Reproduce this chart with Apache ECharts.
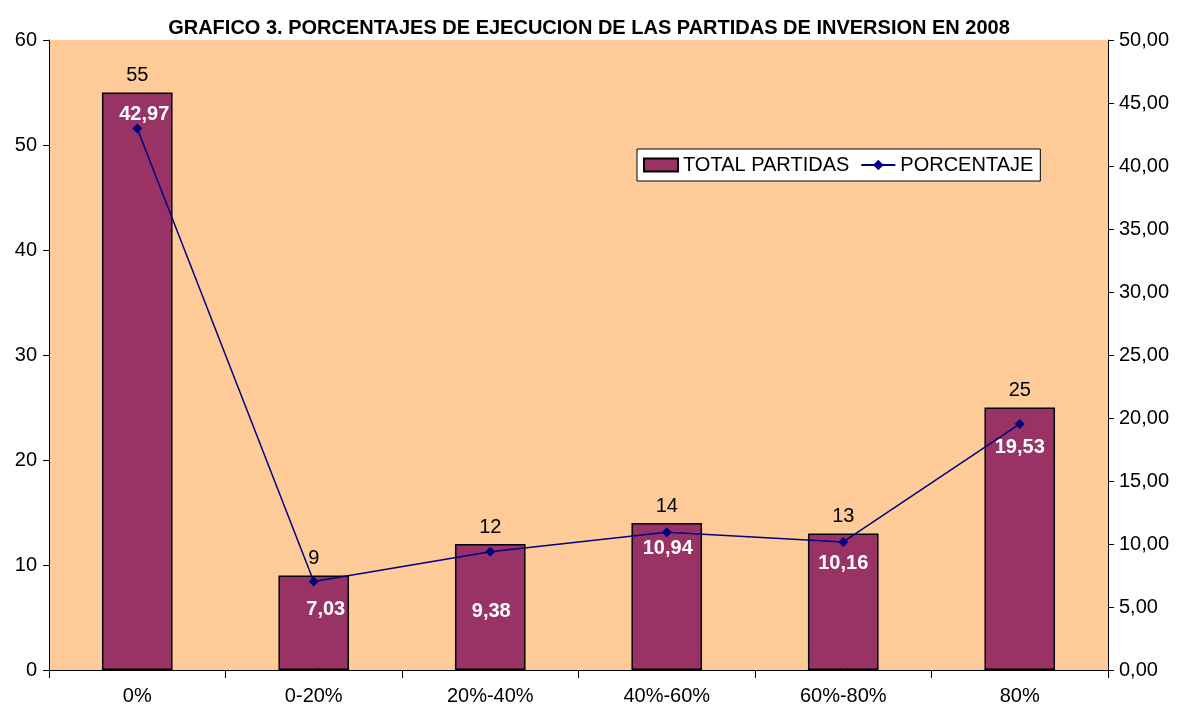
<!DOCTYPE html>
<html>
<head>
<meta charset="utf-8">
<script src="https://cdn.jsdelivr.net/npm/echarts@6/dist/echarts.min.js"></script>
<style>html,body{margin:0;padding:0;background:#fff;}#c{width:1178px;height:706px;}</style>
</head>
<body>
<div id="c"></div>
<script>
var categories = ['0%', '0-20%', '20%-40%', '40%-60%', '60%-80%', '80%'];
var totalPartidas = [55, 9, 12, 14, 13, 25];
var porcentaje = [42.97, 7.03, 9.38, 10.94, 10.16, 19.53];
var leftTicks = {min: 0, max: 60, interval: 10};
var rightTicks = {min: 0, max: 50, interval: 5};

// label placement for the percentage labels (style only)
var pctLabelOffsets = [[7, -41], [12, 1], [1, 33], [1, -11], [0, -5], [0, -3]];

var font = '"Liberation Sans", Arial, sans-serif';
var chart = echarts.init(document.getElementById('c'));
chart.setOption({
  animation: false,
  backgroundColor: '#ffffff',
  title: {
    text: 'GRAFICO 3. PORCENTAJES DE EJECUCION DE LAS PARTIDAS DE INVERSION EN 2008',
    left: 'center', top: 13,
    textStyle: {fontFamily: font, fontSize: 20, fontWeight: 'bold', color: '#000'}
  },
  legend: {
    left: 637, top: 149,
    padding: [6, 7, 6, 6],
    itemWidth: 34, itemHeight: 13, itemGap: 11,
    backgroundColor: '#ffffff', borderColor: '#000', borderWidth: 1,
    textStyle: {fontFamily: font, fontSize: 20, color: '#000'},
    data: [{name: 'TOTAL PARTIDAS', icon: 'rect'}, {name: 'PORCENTAJE'}]
  },
  grid: {
    left: 49, right: 70, top: 40, bottom: 35,
    show: true, backgroundColor: '#FFCC99', borderWidth: 0
  },
  xAxis: {
    type: 'category', data: categories,
    axisLine: {lineStyle: {color: '#000', width: 1}},
    axisTick: {show: true, length: 8, lineStyle: {color: '#000'}},
    axisLabel: {fontFamily: font, fontSize: 20, color: '#000', margin: 16}
  },
  yAxis: [{
    type: 'value', min: leftTicks.min, max: leftTicks.max, interval: leftTicks.interval,
    axisLine: {show: true, lineStyle: {color: '#000'}},
    axisTick: {show: true, length: 6, lineStyle: {color: '#000'}},
    splitLine: {show: false},
    axisLabel: {fontFamily: font, fontSize: 20, color: '#000', margin: 12}
  }, {
    type: 'value', position: 'right', min: rightTicks.min, max: rightTicks.max, interval: rightTicks.interval,
    axisLine: {show: true, lineStyle: {color: '#000'}},
    axisTick: {show: true, length: 6, lineStyle: {color: '#000'}},
    splitLine: {show: false},
    axisLabel: {fontFamily: font, fontSize: 20, color: '#000', margin: 11,
      formatter: function (v) { return v.toFixed(2).replace('.', ','); }}
  }],
  series: [{
    name: 'TOTAL PARTIDAS', type: 'bar', yAxisIndex: 0,
    data: totalPartidas,
    barWidth: '40%',
    itemStyle: {color: '#993366', borderColor: '#000', borderWidth: 1.5},
    label: {show: true, position: 'top', distance: 7,
      fontFamily: font, fontSize: 20, color: '#000'}
  }, {
    name: 'PORCENTAJE', type: 'line', yAxisIndex: 1,
    data: porcentaje.map(function (v, i) {
      return {value: v, label: {offset: pctLabelOffsets[i]}};
    }),
    symbol: 'diamond', symbolSize: 10,
    lineStyle: {color: '#000080', width: 1.5},
    itemStyle: {color: '#000080'},
    z: 5,
    label: {show: true, position: 'bottom', distance: 12,
      fontFamily: font, fontSize: 20, fontWeight: 'bold', color: '#fff',
      formatter: function (p) { return p.value.toFixed(2).replace('.', ','); }}
  }]
});
</script>
</body>
</html>
